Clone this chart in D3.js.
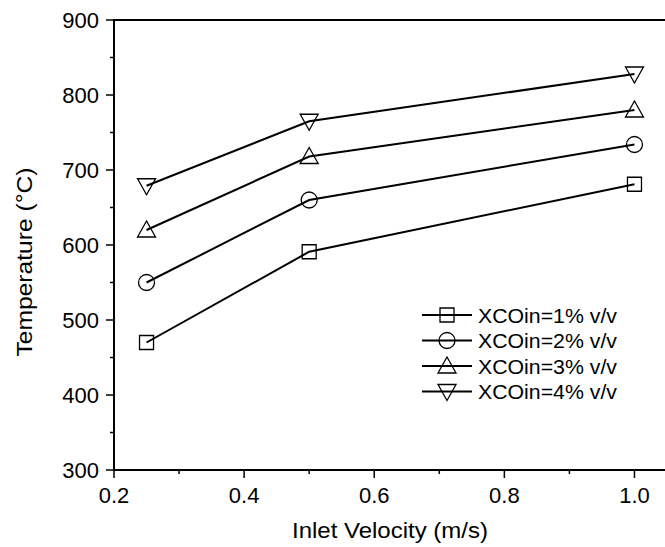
<!DOCTYPE html>
<html>
<head>
<meta charset="utf-8">
<script src="https://cdn.jsdelivr.net/npm/d3@7"></script>
<style>
  body { margin: 0; background: #fff; }
  svg { display: block; font-family: "Liberation Sans", Arial, sans-serif; }
</style>
</head>
<body>
<div id="chart"></div>
<script>
// Inlet velocity (m/s)
const velocities = [0.25, 0.5, 1.0];

// Temperature (°C) per CO inlet fraction
const seriesNames = ['XCOin=1% v/v', 'XCOin=2% v/v', 'XCOin=3% v/v', 'XCOin=4% v/v'];
const temp1 = [470, 591, 681];
const temp2 = [550, 660, 734];
const temp3 = [620, 718, 780];
const temp4 = [679, 765, 828];
const markerTypes = ['square', 'circle', 'up', 'down'];

const xTicks = [0.2, 0.4, 0.6, 0.8, 1.0];
const yTicks = [300, 400, 500, 600, 700, 800, 900];

const W = 665, H = 547;
const m = { top: 20, right: -2, bottom: 77, left: 114 };
const w = W - m.left - m.right;
const h = H - m.top - m.bottom;

const svg = d3.select('#chart').append('svg').attr('width', W).attr('height', H);
const g = svg.append('g').attr('transform', `translate(${m.left},${m.top})`);

const x = d3.scaleLinear().domain([0.2, 1.05]).range([0, w]);
const y = d3.scaleLinear().domain([300, 900]).range([h, 0]);

// marker path centred at 0,0
function marker(type) {
  if (type === 'square') return 'M-7,-7H7V7H-7Z';
  if (type === 'circle') return d3.symbol().type(d3.symbolCircle).size(Math.PI * 64)();
  if (type === 'up') return 'M0,-9L9,7H-9Z';
  return 'M0,9L9,-7H-9Z';
}

// ── Axes ──────────────────────────────────────────────
const minorY = d3.range(350, 900, 100);
const minorX = d3.range(0.3, 1.05, 0.2);

const ax = g.append('g').attr('stroke', '#000');
// frame: left, bottom, top (right side falls outside the window)
ax.append('line').attr('x1', 0).attr('x2', 0).attr('y1', -1).attr('y2', h + 1).attr('stroke-width', 2);
ax.append('line').attr('x1', -1).attr('x2', w).attr('y1', h).attr('y2', h).attr('stroke-width', 2);
ax.append('line').attr('x1', -1).attr('x2', w).attr('y1', 0).attr('y2', 0).attr('stroke-width', 2);

ax.selectAll('line.ymaj').data(yTicks).join('line')
  .attr('x1', -8).attr('x2', 0).attr('y1', d => y(d)).attr('y2', d => y(d)).attr('stroke-width', 1.5);
ax.selectAll('line.ymin').data(minorY).join('line')
  .attr('x1', -4).attr('x2', 0).attr('y1', d => y(d)).attr('y2', d => y(d)).attr('stroke-width', 1.5);
ax.selectAll('line.xmaj').data(xTicks).join('line')
  .attr('x1', d => x(d)).attr('x2', d => x(d)).attr('y1', h).attr('y2', h + 8).attr('stroke-width', 1.5);
ax.selectAll('line.xmin').data(minorX).join('line')
  .attr('x1', d => x(d)).attr('x2', d => x(d)).attr('y1', h).attr('y2', h + 4).attr('stroke-width', 1.5);

g.selectAll('text.ytl').data(yTicks).join('text')
  .attr('x', -15).attr('y', d => y(d)).attr('dy', '0.36em')
  .attr('text-anchor', 'end').attr('font-size', 22).text(d => d);
g.selectAll('text.xtl').data(xTicks).join('text')
  .attr('x', d => x(d)).attr('y', h + 33)
  .attr('text-anchor', 'middle').attr('font-size', 22).text(d => d.toFixed(1));

g.append('text').attr('x', 276).attr('y', h + 68)
  .attr('text-anchor', 'middle').attr('font-size', 22)
  .attr('textLength', 196).attr('lengthAdjust', 'spacingAndGlyphs')
  .text('Inlet Velocity (m/s)');
g.append('text').attr('transform', 'rotate(-90)').attr('x', -(262 - m.top)).attr('y', 32 - m.left)
  .attr('text-anchor', 'middle').attr('font-size', 22)
  .attr('textLength', 189).attr('lengthAdjust', 'spacingAndGlyphs')
  .text('Temperature (°C)');

// ── Series ────────────────────────────────────────────
const allSeries = [temp1, temp2, temp3, temp4];
const line = d3.line().x((d, i) => x(velocities[i])).y(d => y(d));

allSeries.forEach((vals, si) => {
  g.append('path').datum(vals).attr('d', line)
    .attr('fill', 'none').attr('stroke', '#000').attr('stroke-width', 2);
  g.selectAll(null).data(vals).join('path')
    .attr('d', marker(markerTypes[si]))
    .attr('transform', (d, i) => `translate(${x(velocities[i])},${y(d)})`)
    .attr('fill', 'none').attr('stroke', '#000').attr('stroke-width', 1.3);
});

// ── Legend ────────────────────────────────────────────
const leg = g.append('g').attr('transform', `translate(${422 - m.left},${315 - m.top})`);
seriesNames.forEach((name, i) => {
  const ly = i * 25.5;
  leg.append('line').attr('x1', 0).attr('x2', 50).attr('y1', ly).attr('y2', ly)
    .attr('stroke', '#000').attr('stroke-width', 2);
  leg.append('path').attr('d', marker(markerTypes[i]))
    .attr('transform', `translate(25,${ly})`)
    .attr('fill', 'none').attr('stroke', '#000').attr('stroke-width', 1.3);
  leg.append('text').attr('x', 56).attr('y', ly).attr('dy', '0.36em')
    .attr('font-size', 21).attr('textLength', 139).attr('lengthAdjust', 'spacingAndGlyphs')
    .text(name);
});
</script>
</body>
</html>
